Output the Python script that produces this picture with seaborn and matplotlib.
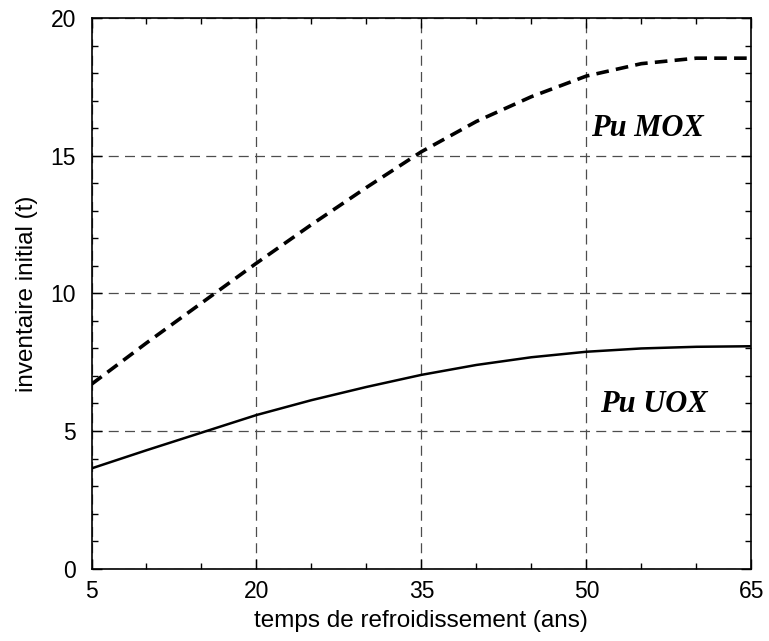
"""
Inventaire initial de Pu (MOX / UOX) en fonction du temps de refroidissement.
"""

import pandas as pd
import matplotlib
matplotlib.use("Agg")
import matplotlib.pyplot as plt
import matplotlib.ticker as mticker
import seaborn as sns

sns.set_style("ticks")
plt.rcParams.update({
    "font.family": "Liberation Sans", "font.size": 16,
    "text.color": "black", "axes.labelcolor": "black",
    "xtick.color": "black", "ytick.color": "black", "axes.edgecolor": "black",
})

# ── Données ───────────────────────────────────────────────────────────────────
temps = [5, 10, 15, 20, 25, 30, 35, 40, 45, 50, 55, 60, 65]
pu_mox = [6.7, 8.2, 9.65, 11.1, 12.5, 13.85, 15.15, 16.25, 17.15, 17.9, 18.35, 18.55, 18.55]
pu_uox = [3.64, 4.3, 4.94, 5.58, 6.12, 6.6, 7.04, 7.4, 7.68, 7.88, 8.0, 8.06, 8.08]

x_ticks = [5, 20, 35, 50, 65]
y_ticks = [0, 5, 10, 15, 20]

df = pd.DataFrame({"temps": temps * 2,
                   "inventaire": pu_mox + pu_uox,
                   "serie": ["Pu MOX"] * len(temps) + ["Pu UOX"] * len(temps)})

fig = plt.figure(figsize=(7.69, 6.41), dpi=100)
ax = fig.add_axes([0.119, 0.113, 0.858, 0.8585])

sns.lineplot(data=df[df["serie"] == "Pu MOX"], x="temps", y="inventaire",
             color="black", linewidth=2.6, ax=ax)
ax.lines[-1].set_dashes([3.5, 2])
sns.lineplot(data=df[df["serie"] == "Pu UOX"], x="temps", y="inventaire",
             color="black", linewidth=1.8, ax=ax)

ax.set_xlim(5, 65)
ax.set_ylim(0, 20)
ax.set_xticks(x_ticks)
ax.set_yticks(y_ticks)
ax.xaxis.set_minor_locator(mticker.MultipleLocator(5))
ax.yaxis.set_minor_locator(mticker.MultipleLocator(1))
ax.tick_params(which="both", direction="in", top=True, right=True, width=1)
ax.tick_params(which="major", length=7, labelsize=16.5)
ax.tick_params(which="minor", length=4)
ax.tick_params(axis="x", which="major", pad=8)
ax.tick_params(axis="y", which="major", pad=11)
ax.grid(which="major", linestyle=(0, (8, 5)), color="0.3", linewidth=0.9)
for s in ax.spines.values():
    s.set_linewidth(1.2)
    s.set_zorder(5)

ax.set_xlabel("temps de refroidissement (ans)", fontsize=17.5, labelpad=5)
ax.set_ylabel("inventaire initial (t)", fontsize=17.5, labelpad=9)

ax.text(50.4, 16.0, "Pu MOX", family="Liberation Serif", style="italic",
        fontweight="bold", fontsize=22, va="center", ha="left")
ax.text(51.2, 5.95, "Pu UOX", family="Liberation Serif", style="italic",
        fontweight="bold", fontsize=22, va="center", ha="left")

plt.savefig("out.png", dpi=100)
plt.close()
